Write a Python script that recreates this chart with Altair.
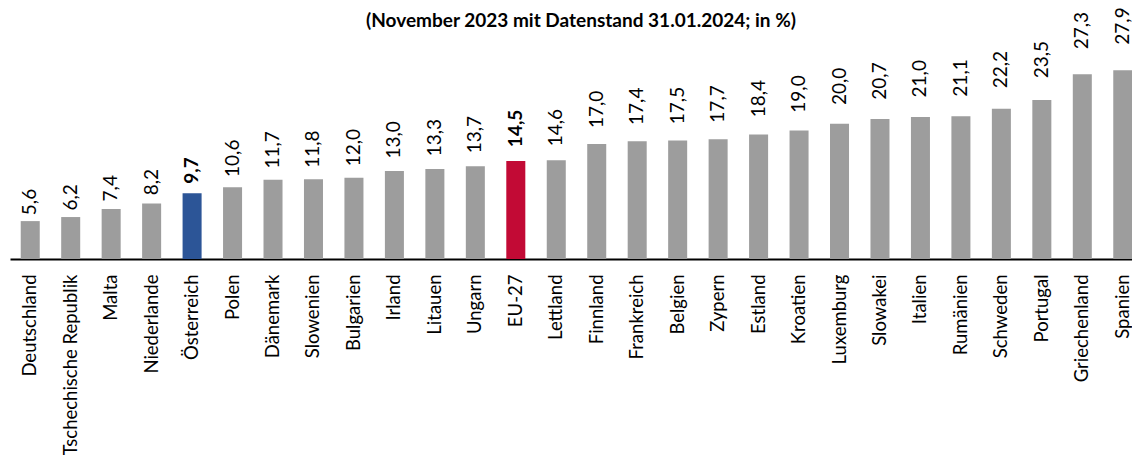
import altair as alt
import pandas as pd

countries = ["Deutschland", "Tschechische Republik", "Malta", "Niederlande", "Österreich",
             "Polen", "Dänemark", "Slowenien", "Bulgarien", "Irland", "Litauen", "Ungarn",
             "EU-27", "Lettland", "Finnland", "Frankreich", "Belgien", "Zypern", "Estland",
             "Kroatien", "Luxemburg", "Slowakei", "Italien", "Rumänien", "Schweden",
             "Portugal", "Griechenland", "Spanien"]
values = [5.6, 6.2, 7.4, 8.2, 9.7, 10.6, 11.7, 11.8, 12.0, 13.0, 13.3, 13.7, 14.5, 14.6,
          17.0, 17.4, 17.5, 17.7, 18.4, 19.0, 20.0, 20.7, 21.0, 21.1, 22.2, 23.5, 27.3, 27.9]
highlight = {"Österreich": "at", "EU-27": "eu"}
title_text = "(November 2023 mit Datenstand 31.01.2024; in %)"

df = pd.DataFrame({
    "land": countries,
    "wert": values,
    "label": [f"{v:.1f}".replace(".", ",") for v in values],
    "gruppe": [highlight.get(c, "other") for c in countries],
})
df["bold"] = df["gruppe"] != "other"

FONT = "Lato"

x = alt.X("land:N", sort=countries,
          scale=alt.Scale(range=[2, 1135], paddingInner=0.53, paddingOuter=0.265),
          axis=alt.Axis(title=None, labelAngle=-90, labelFont=FONT, labelFontSize=18.5,
                        labelColor="black", labelPadding=15, ticks=False,
                        domainColor="black", domainWidth=2, labelLimit=400))
yscale = alt.Scale(domain=[0, 30], nice=False)
y_bar = alt.Y("wert:Q", scale=yscale, axis=None)
# value labels sit on a slightly stretched position (as in the original chart)
y_lab = alt.Y("lpos:Q", scale=yscale, axis=None)

bars = alt.Chart(df).mark_bar().encode(
    x=x, y=y_bar,
    color=alt.Color("gruppe:N",
                    scale=alt.Scale(domain=["other", "at", "eu"],
                                    range=["#9d9d9d", "#2c5597", "#c20a35"]),
                    legend=None),
)

base_lab = alt.Chart(df).transform_calculate(lpos="datum.wert * 1.13")

labels_normal = base_lab.transform_filter("!datum.bold").mark_text(
    angle=270, align="left", baseline="middle", dx=1, font=FONT, fontSize=19,
    color="black").encode(x=x, y=y_lab, text="label:N")

labels_bold = base_lab.transform_filter("datum.bold").mark_text(
    angle=270, align="left", baseline="middle", dx=1, font=FONT, fontSize=19,
    fontWeight="bold", color="black").encode(x=x, y=y_lab, text="label:N")

title = alt.Chart(pd.DataFrame({"t": [title_text]})).mark_text(
    font=FONT, fontSize=19, fontWeight="bold", color="black",
    align="center", baseline="alphabetic").encode(
    text="t:N", x=alt.value(573), y=alt.value(-29))

chart = alt.layer(bars, labels_normal, labels_bold, title).properties(
    width=1124, height=203,
    padding={"left": 0, "top": 48, "right": 0, "bottom": 196},
    autosize=alt.AutoSizeParams(type="none"),
).configure_view(stroke=None)

chart.save("out.html", embed_options={"renderer": "svg", "actions": False})
